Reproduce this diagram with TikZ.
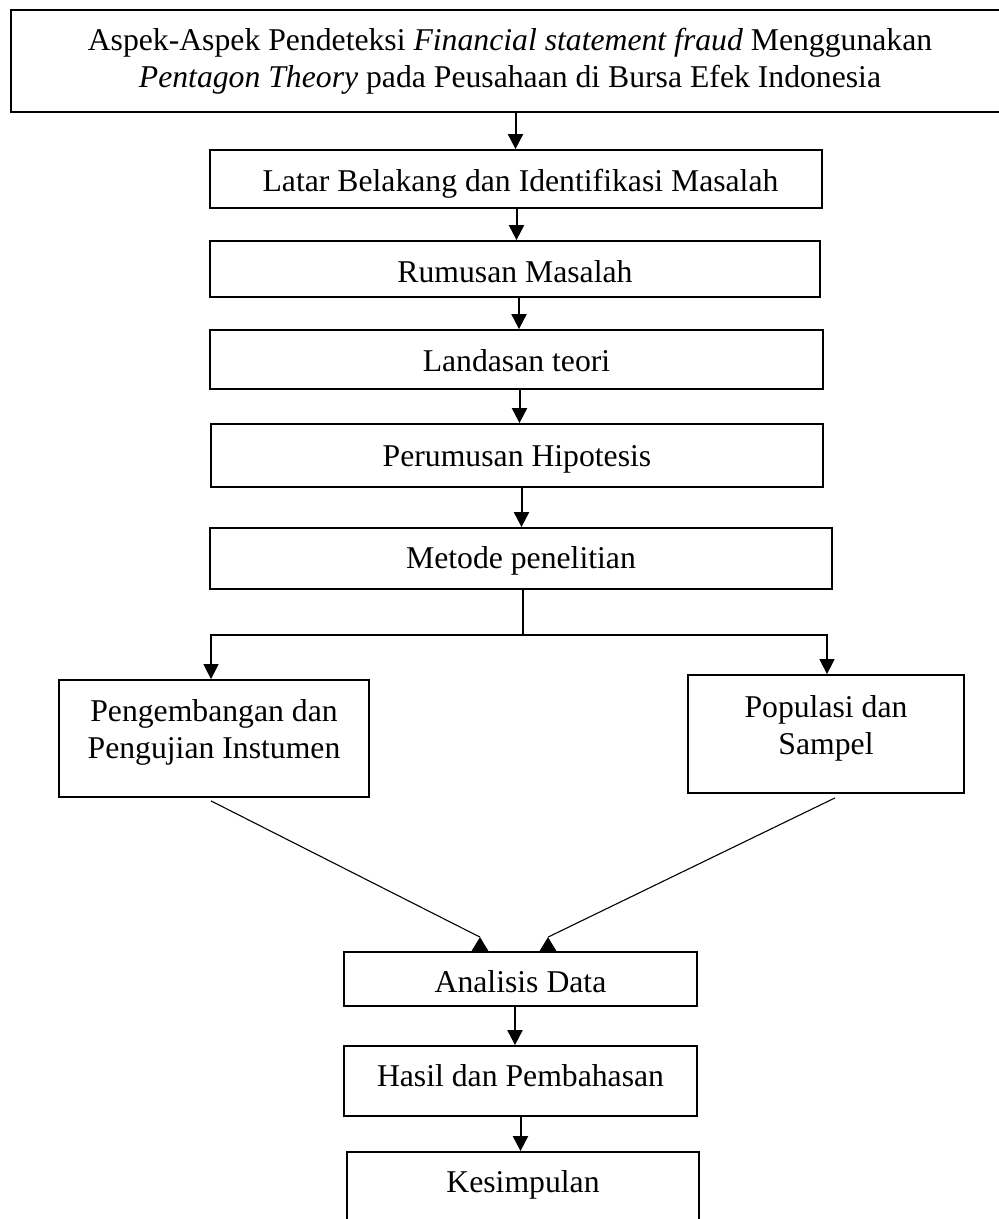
\documentclass[tikz,border=0pt]{standalone}
\usepackage{fontspec}
\setmainfont{Liberation Serif}
\usetikzlibrary{arrows.meta,backgrounds}
\newcommand\tlns[2]{\begin{tabular}[t]{@{}c@{}}#1\\#2\end{tabular}}
\begin{document}
\begin{tikzpicture}[x=1pt,y=-1pt,
  box/.style={draw, line width=1.8pt, fill=white, inner sep=0pt},
  txt/.style={inner sep=0pt, anchor=base, font=\fontsize{31.7}{37.5}\selectfont},
  arr/.style={line width=2pt, -{Triangle[width=15pt,length=15pt]}},
  sarr/.style={line width=1.5pt, -{Triangle[width=15pt,length=15pt]}},
  lnk/.style={line width=1.5pt},
  dln/.style={line width=1.1pt},
  hump/.style={fill=black}]
\useasboundingbox (0,0) rectangle (999,1219);
\clip (0,0) rectangle (999,1219);
% boxes
\node[box, minimum width=1001pt, minimum height=102pt] (top) at (511.5,61) {};
\node[txt] (top-t) at (510,50) {\tlns{Aspek-Aspek Pendeteksi \textit{Financial statement fraud} Menggunakan}{\textit{Pentagon Theory} pada Peusahaan di Bursa Efek Indonesia}};
\node[box, minimum width=612pt, minimum height=58pt] (latar) at (516,179) {};
\node[txt] (latar-t) at (520.5,191.5) {Latar Belakang dan Identifikasi Masalah};
\node[box, minimum width=610pt, minimum height=56pt] (rumusan) at (515,269) {};
\node[txt] (rumusan-t) at (515,282) {Rumusan Masalah};
\node[box, minimum width=613pt, minimum height=59pt] (landasan) at (516.5,359.5) {};
\node[txt] (landasan-t) at (516.5,371) {Landasan teori};
\node[box, minimum width=612pt, minimum height=63pt] (perumusan) at (517,455.5) {};
\node[txt] (perumusan-t) at (517,466) {Perumusan Hipotesis};
\node[box, minimum width=622pt, minimum height=61pt] (metode) at (521,558.5) {};
\node[txt] (metode-t) at (521,568.5) {Metode penelitian};
\node[box, minimum width=310pt, minimum height=117pt] (peng) at (214,738.5) {};
\node[txt] (peng-t) at (214,721) {\tlns{Pengembangan dan}{Pengujian Instumen}};
\node[box, minimum width=276pt, minimum height=118pt] (popul) at (826,734) {};
\node[txt] (popul-t) at (826,717) {\tlns{Populasi dan}{Sampel}};
\node[box, minimum width=353pt, minimum height=54pt] (analisis) at (520.5,979) {};
\node[txt] (analisis-t) at (520.5,992.5) {Analisis Data};
\node[box, minimum width=353pt, minimum height=70pt] (hasil) at (520.5,1081) {};
\node[txt] (hasil-t) at (520.5,1086.5) {Hasil dan Pembahasan};
\node[box, minimum width=352pt, minimum height=108pt] (kes) at (523,1206) {};
\node[txt] (kes-t) at (523,1192.5) {Kesimpulan};
% connectors
\begin{scope}[on background layer]
\draw[arr] ([xshift=-0.5pt]top.south -| latar.north) -- ([xshift=-0.5pt]latar.north);
\draw[arr] ([xshift=1.5pt]rumusan.north |- latar.south) -- ([xshift=1.5pt]rumusan.north);
\draw[arr] ([xshift=4pt]rumusan.south) -- ([xshift=4pt]rumusan.south |- landasan.north);
\draw[arr] ([xshift=3pt]landasan.south) -- ([xshift=3pt]landasan.south |- perumusan.north);
\draw[arr] ([xshift=4.5pt]perumusan.south) -- ([xshift=4.5pt]perumusan.south |- metode.north);
\coordinate (split) at (523,635);
\draw[lnk] (metode.south -| split) -- (split);
\draw[sarr] (split) -| ([xshift=-3pt]peng.north);
\draw[sarr] (split) -| ([xshift=1pt]popul.north);
\coordinate (lapex) at ([xshift=-40.5pt,yshift=14pt]analisis.north);
\coordinate (rapex) at ([xshift=27.5pt,yshift=14pt]analisis.north);
\draw[dln] ([xshift=-3pt,yshift=-3pt]peng.south) -- (lapex);
\draw[dln] ([xshift=9pt,yshift=-4pt]popul.south) -- (rapex);
\fill[hump] (lapex) -- ++(-8.5,14) -- ++(17,0) -- cycle;
\fill[hump] (rapex) -- ++(-8.5,14) -- ++(17,0) -- cycle;
\draw[arr] ([xshift=-5.5pt]analisis.south) -- ([xshift=-5.5pt]hasil.north);
\draw[arr] (hasil.south) -- (hasil.south |- kes.north);
\end{scope}
\end{tikzpicture}
\end{document}
